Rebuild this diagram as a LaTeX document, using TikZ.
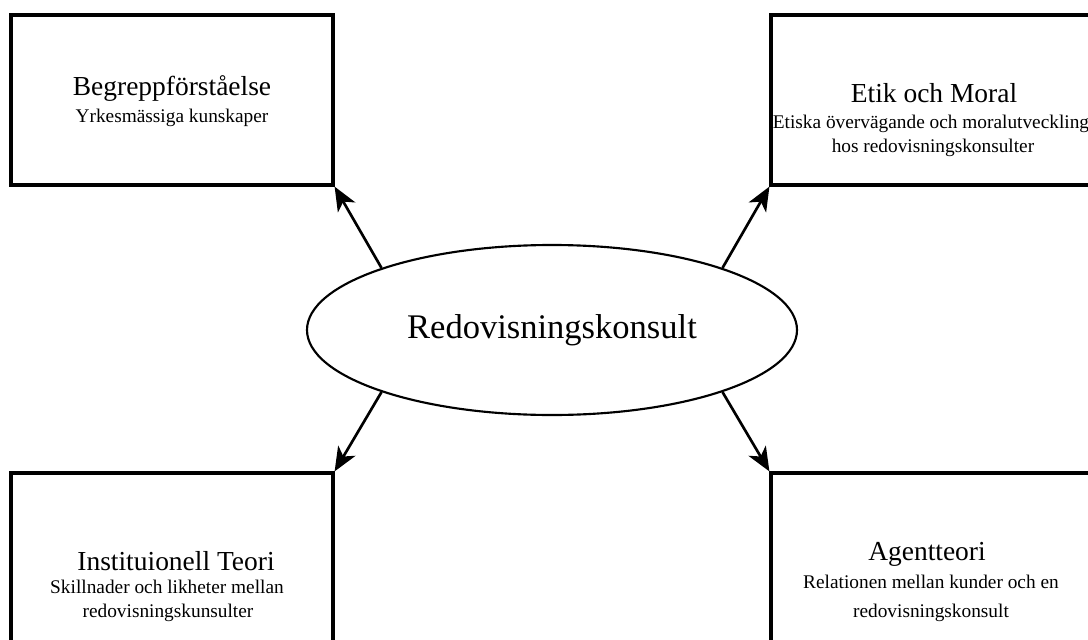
\documentclass[tikz,border=0pt]{standalone}
\usepackage{fontspec}
\setmainfont{Liberation Serif}
\usetikzlibrary{shapes.geometric,arrows.meta}
\begin{document}
\begin{tikzpicture}[x=0.75pt,y=-0.75pt,
  box/.style={draw,line width=2.4pt,minimum width=241.5pt,minimum height=127.5pt,inner sep=0pt},
  hub/.style={draw,ellipse,line width=1.6pt,minimum width=367.5pt,minimum height=127.5pt,inner sep=0pt,
    font=\fontsize{25.9}{30}\selectfont},
  ttl/.style={anchor=base,inner sep=0pt,font=\fontsize{20.6}{24}\selectfont},
  sub/.style={anchor=base,inner sep=0pt,font=\fontsize{14.5}{17}\selectfont},
  link/.style={line width=2pt,-{Stealth[length=18pt,width=15pt,inset=5pt]}}]
\useasboundingbox (0,0) rectangle (1088,639);
\clip (0,0) rectangle (1088,639);
% boxes
\node[box] (tl) at (172,100) {};
\node[box] (tr) at (932,100) {};
\node[box] (bl) at (172,558) {};
\node[box] (br) at (932,558) {};
% hub
\node[hub] (hub) at (552,330) {Redovisningskonsult};
% texts
\node[ttl] (tlt) at (172,95) {Begreppförståelse};
\node[sub] (tls) at (172,122) {Yrkesmässiga kunskaper};
\node[ttl] (trt) at (934,102) {Etik och Moral};
\node[sub] (trs1) at (931,128) {Etiska övervägande och moralutveckling};
\node[sub] (trs2) at (933,152) {hos redovisningskonsulter};
\node[ttl] (blt) at (176,570) {Instituionell Teori};
\node[sub] (bls1) at (167,593) {Skillnader och likheter mellan};
\node[sub] (bls2) at (168,617) {redovisningskunsulter};
\node[ttl] (brt) at (927,560) {Agentteori};
\node[sub] (brs1) at (931,588) {Relationen mellan kunder och en};
\node[sub] (brs2) at (931,617) {redovisningskonsult};
% connectors
\draw[link] (hub.160) -- (tl.south east);
\draw[link] (hub.20) -- (tr.south west);
\draw[link] (hub.200) -- (bl.north east);
\draw[link] (hub.340) -- (br.north west);
\end{tikzpicture}
\end{document}
